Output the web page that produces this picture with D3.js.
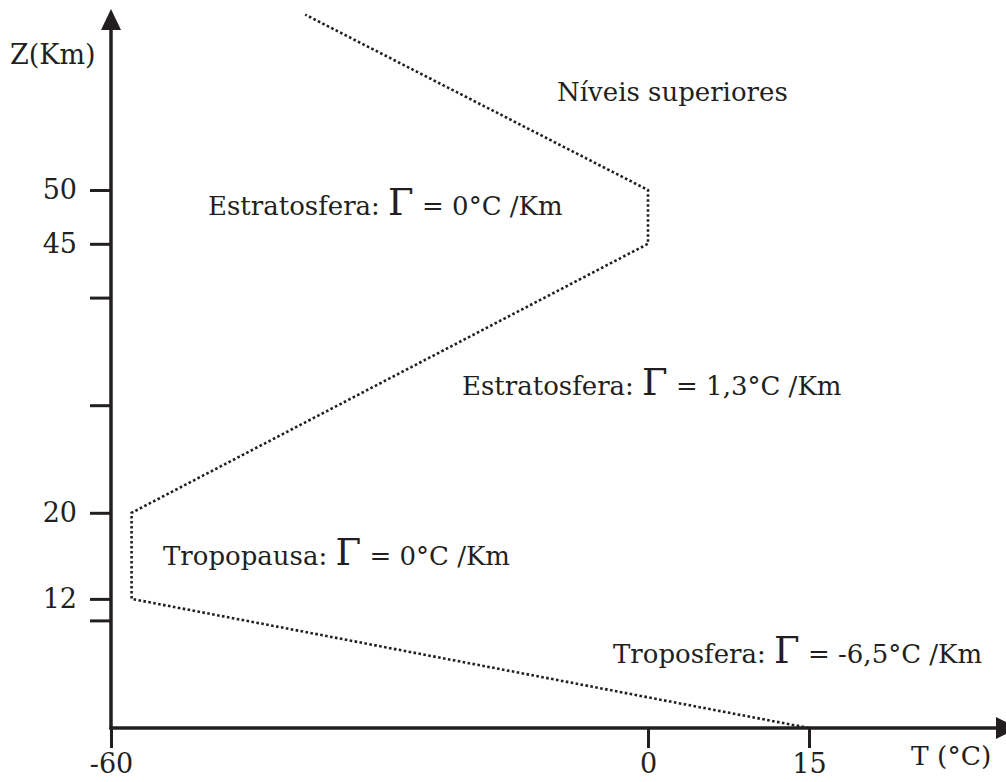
<!DOCTYPE html>
<html>
<head>
<meta charset="utf-8">
<script src="https://cdn.jsdelivr.net/npm/d3@7"></script>
<style>
  html, body { margin: 0; padding: 0; background: #fff; }
  svg { display: block; }
  text { font-family: "DejaVu Serif", "Liberation Serif", serif; fill: #231f20; }
</style>
</head>
<body>
<svg id="chart" width="1006" height="782"></svg>
<script>
// perfil de temperatura
var tempC = [15, -57.7, -57.7, 0, 0, -38.3];
var altKm = [0, 12, 20, 45, 50, 66.3];

// ticks
var xTicks = [-60, 0, 15];
var yTicks = [10, 12, 20, 30, 40, 45, 50];
var yTickLabels = [12, 20, 45, 50];

// textos das camadas
var layerNames = ["Níveis superiores", "Estratosfera: ", "Estratosfera: ", "Tropopausa: ", "Troposfera: "];
var layerRates = ["", "0°C /Km", "1,3°C /Km", "0°C /Km", "-6,5°C /Km"];

var ink = "#231f20";
var svg = d3.select("#chart");

// escala x não linear (esquemática): -60 na origem
var x = d3.scaleLinear().domain([-60, 0, 15]).range([111, 648, 809]);
var y = d3.scaleLinear().domain([0, 50]).range([728, 190]);

var x0 = x(-60), y0 = y(0);

// eixos com setas
svg.append("line")
  .attr("x1", x0).attr("y1", y0 + 1.5)
  .attr("x2", x0).attr("y2", 26)
  .attr("stroke", ink).attr("stroke-width", 3.5);
svg.append("path")
  .attr("d", "M" + (x0 - 10) + ",30 L" + x0 + ",9 L" + (x0 + 10) + ",30 Z")
  .attr("fill", ink);

svg.append("line")
  .attr("x1", x0 - 1.5).attr("y1", y0)
  .attr("x2", 1000).attr("y2", y0)
  .attr("stroke", ink).attr("stroke-width", 3.5);
svg.append("path")
  .attr("d", "M996," + (y0 - 11) + " L1018," + y0 + " L996," + (y0 + 11) + " Z")
  .attr("fill", ink);

// eixo y
var yAxis = d3.axisLeft(y)
  .tickValues(yTicks)
  .tickSize(21)
  .tickPadding(13)
  .tickFormat(function (d) { return yTickLabels.indexOf(d) != -1 ? d : ""; });
var gy = svg.append("g").attr("transform", "translate(" + x0 + ",0)").call(yAxis);
gy.select(".domain").remove();
gy.selectAll("line").attr("stroke", ink).attr("stroke-width", 3);
gy.selectAll("text")
  .style("font-size", "27px")
  .attr("fill", ink);

// eixo x
var xAxis = d3.axisBottom(x)
  .tickValues(xTicks)
  .tickSize(20)
  .tickPadding(6)
  .tickFormat(function (d) { return d; });
var gx = svg.append("g").attr("transform", "translate(0," + y0 + ")").call(xAxis);
gx.select(".domain").remove();
gx.selectAll("line").attr("stroke", ink).attr("stroke-width", 3);
gx.selectAll("text")
  .style("font-size", "27px")
  .attr("fill", ink);

// perfil pontilhado
var profile = tempC.map(function (t, i) { return [t, altKm[i]]; });
var line = d3.line()
  .x(function (d) { return x(d[0]); })
  .y(function (d) { return y(d[1]); });
svg.append("path")
  .datum(profile)
  .attr("d", line)
  .attr("fill", "none")
  .attr("stroke", ink)
  .attr("stroke-width", 2.6)
  .attr("stroke-dasharray", "2.6,2.4");

// títulos dos eixos
svg.append("text").attr("x", 10).attr("y", 64)
  .style("font-size", "27px").text("Z(Km)");
svg.append("text").attr("x", 911).attr("y", 765)
  .style("font-size", "26.5px").text("T (°C)");

// rótulos das camadas
var layerPos = [[557, 101], [208, 215], [462, 395], [163, 565], [613, 663]];
layerNames.forEach(function (name, i) {
  var t = svg.append("text")
    .attr("x", layerPos[i][0]).attr("y", layerPos[i][1])
    .style("font-size", "26px");
  t.append("tspan").text(name);
  if (layerRates[i] != "") {
    t.append("tspan").style("font-size", "37px").text("Γ");
    t.append("tspan").text(" = " + layerRates[i]);
  }
});
</script>
</body>
</html>
